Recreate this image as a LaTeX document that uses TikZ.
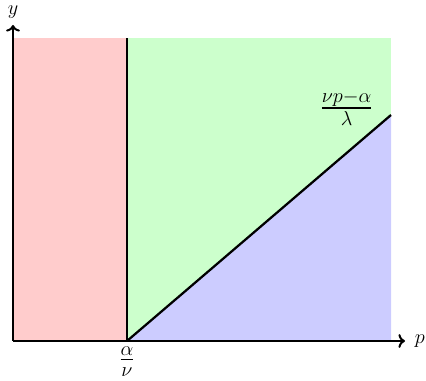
\documentclass[tikz,border=0pt]{standalone}
\usepackage{amsmath, amssymb}
\usepackage{tikz}
\usetikzlibrary{arrows.meta, positioning, calc}
\definecolor{lowc}{HTML}{FFCCCC}
\definecolor{midc}{HTML}{CCFFCC}
\definecolor{higc}{HTML}{CCCCFF}

\begin{document}
\begin{tikzpicture}[line width=1.6pt, font=\Large,
      axis/.style={->, line width=1.4pt},
      fraclab/.style={font=\huge, inner sep=0pt}]
    \useasboundingbox (-0.325,-1.0) rectangle (10.325,8.525);
    % regions
    \coordinate (O) at (0,0);
    \coordinate (a) at (2.85,0);
    \coordinate (atop) at (2.85,7.575);
    \coordinate (d) at (9.45,5.65);
    \fill[lowc] (O) rectangle (atop);
    \fill[midc] (a) rectangle (9.45,7.575);
    \fill[higc] (a) -- (d) -- (9.45,0) -- cycle;
    % axes
    \node (px) at (10.17,0.0) {$p$};
    \node (py) at (0,8.22) {$y$};
    \coordinate (xend) at (9.8,0);
    \coordinate (yend) at (0,7.9);
    \draw[axis] (O) -- (xend);
    \draw[axis] (O) -- (yend);
    % boundaries
    \draw (a) -- (atop);
    \draw (a) -- (d);
    \node[fraclab, below=3pt of a] (alab) {$\frac{\alpha}{\nu}$};
    \node[fraclab, left=0.42cm of d, yshift=5pt] (dlab) {$\frac{\nu p-\alpha}{\lambda}$};
  \end{tikzpicture}
\end{document}
